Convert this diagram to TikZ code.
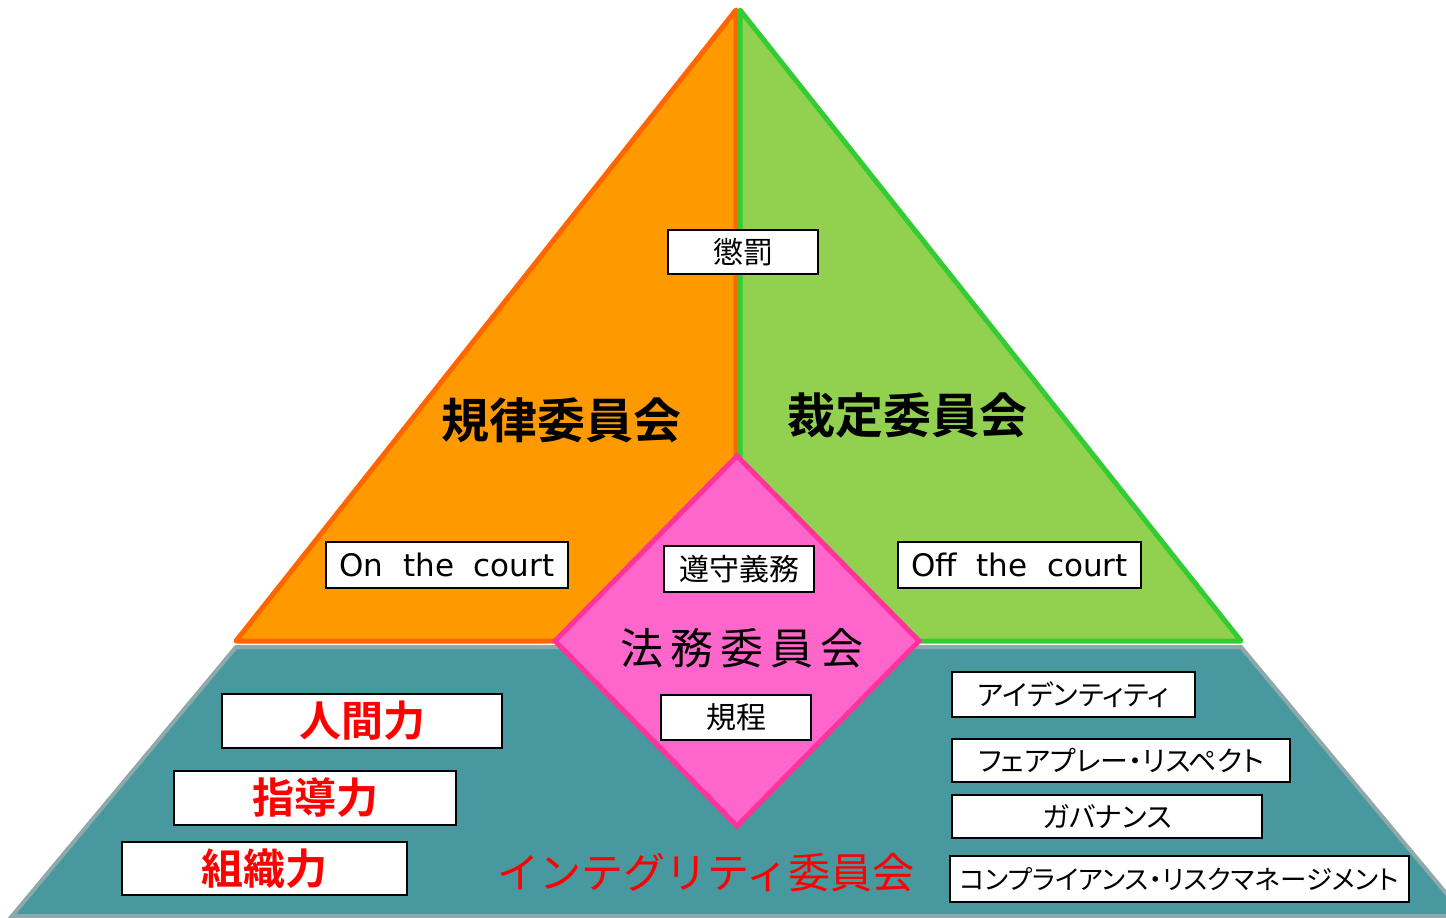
\documentclass[tikz,border=0pt]{standalone}
\usepackage{fontspec}
\setmainfont{Noto Sans CJK JP}[BoldFont={Noto Sans CJK JP Bold}]
\newfontfamily\propfont{Noto Sans CJK JP}[RawFeature=+palt]
\newfontfamily\latinfont{DejaVu Sans}
\usepackage{tikz}
\usetikzlibrary{positioning}
\definecolor{kiritsufill}{HTML}{FF9900}
\definecolor{kiritsuline}{HTML}{FF6600}
\definecolor{saiteifill}{HTML}{92D050}
\definecolor{saiteiline}{HTML}{33CC33}
\definecolor{integfill}{HTML}{4898A0}
\definecolor{integline}{HTML}{8FA9AA}
\definecolor{houmufill}{HTML}{FF66CC}
\definecolor{houmuline}{HTML}{FF3399}

\begin{document}
\begin{tikzpicture}[x=1pt, y=-1pt,
	tag/.style={rectangle, draw=black, line width=1.6pt, fill=white,
		inner sep=0pt, text centered, font=\fontsize{30}{32}\selectfont},
	katatag/.style={tag, font=\fontsize{28}{30}\selectfont\propfont},
	courttag/.style={tag, font=\fontsize{31}{33}\selectfont\latinfont},
	redtag/.style={tag, text=red, font=\fontsize{42}{46}\selectfont\bfseries},
	committee/.style={font=\fontsize{48}{52}\selectfont\bfseries},
	]
	\useasboundingbox (0,0) rectangle (1446,918);
	\clip (0,0) rectangle (1446,918);
	
	% shapes
	\filldraw [fill=integfill, draw=integline, line width=4pt]
		(236,647) -- (1241,647) -- (1465,916) -- (12,916) -- cycle;
	\filldraw [fill=kiritsufill, draw=kiritsuline, line width=5pt, line join=round]
		(736,10) -- (236,641) -- (736,641) -- cycle;
	\filldraw [fill=saiteifill, draw=saiteiline, line width=5pt, line join=round]
		(740,10) -- (1241,641) -- (740,641) -- cycle;
	\filldraw [fill=houmufill, draw=houmuline, line width=5pt]
		(737,456) -- (919,641) -- (737,826) -- (555,641) -- cycle;
	
	% committees
	\node [committee] (kiritsu) at (561,420) {規律委員会};
	\node [committee] (saitei) at (907,415) {裁定委員会};
	\node [font=\fontsize{43}{47}\selectfont] (houmu) at (742,648) {法\,務\,委\,員\,会};
	\node [font=\fontsize{42}{46}\selectfont, text=red] (integ) at (706,873) {インテグリティ委員会};
	
	% labels
	\node [tag, minimum width=150, minimum height=44] (chobatsu) at (743,252) {懲罰};
	\node [courttag, minimum width=242, minimum height=46] (on) at (447,565) {On\ \ the\ \ court};
	\node [courttag, minimum width=243, minimum height=46] (off) at (1019.5,565) {Off\ \ the\ \ court};
	\node [tag, minimum width=150, minimum height=46] (junshu) at (739,569) {遵守義務};
	\node [tag, minimum width=150, minimum height=45] (kitei) at (736,717.5) {規程};
	
	\node [redtag, minimum width=280, minimum height=54] (ningen) at (362,721) {人間力};
	\node [redtag, minimum width=282, minimum height=54] (shidou) at (315,798) {指導力};
	\node [redtag, minimum width=285, minimum height=53] (soshiki) at (264.5,868.5) {組織力};
	
	\node [katatag, minimum width=243, minimum height=45] (identity) at (1073.5,694.5) {アイデンティティ};
	\node [katatag, minimum width=338, minimum height=43] (fairplay) at (1121,760.5) {フェアプレー・リスペクト};
	\node [katatag, minimum width=310, minimum height=43] (governance) at (1107,816.5) {ガバナンス};
	\node [katatag, font=\fontsize{26.5}{29}\selectfont\propfont, minimum width=459, minimum height=46] (compliance) at (1179.5,879) {コンプライアンス・リスクマネージメント};
\end{tikzpicture}
\end{document}
